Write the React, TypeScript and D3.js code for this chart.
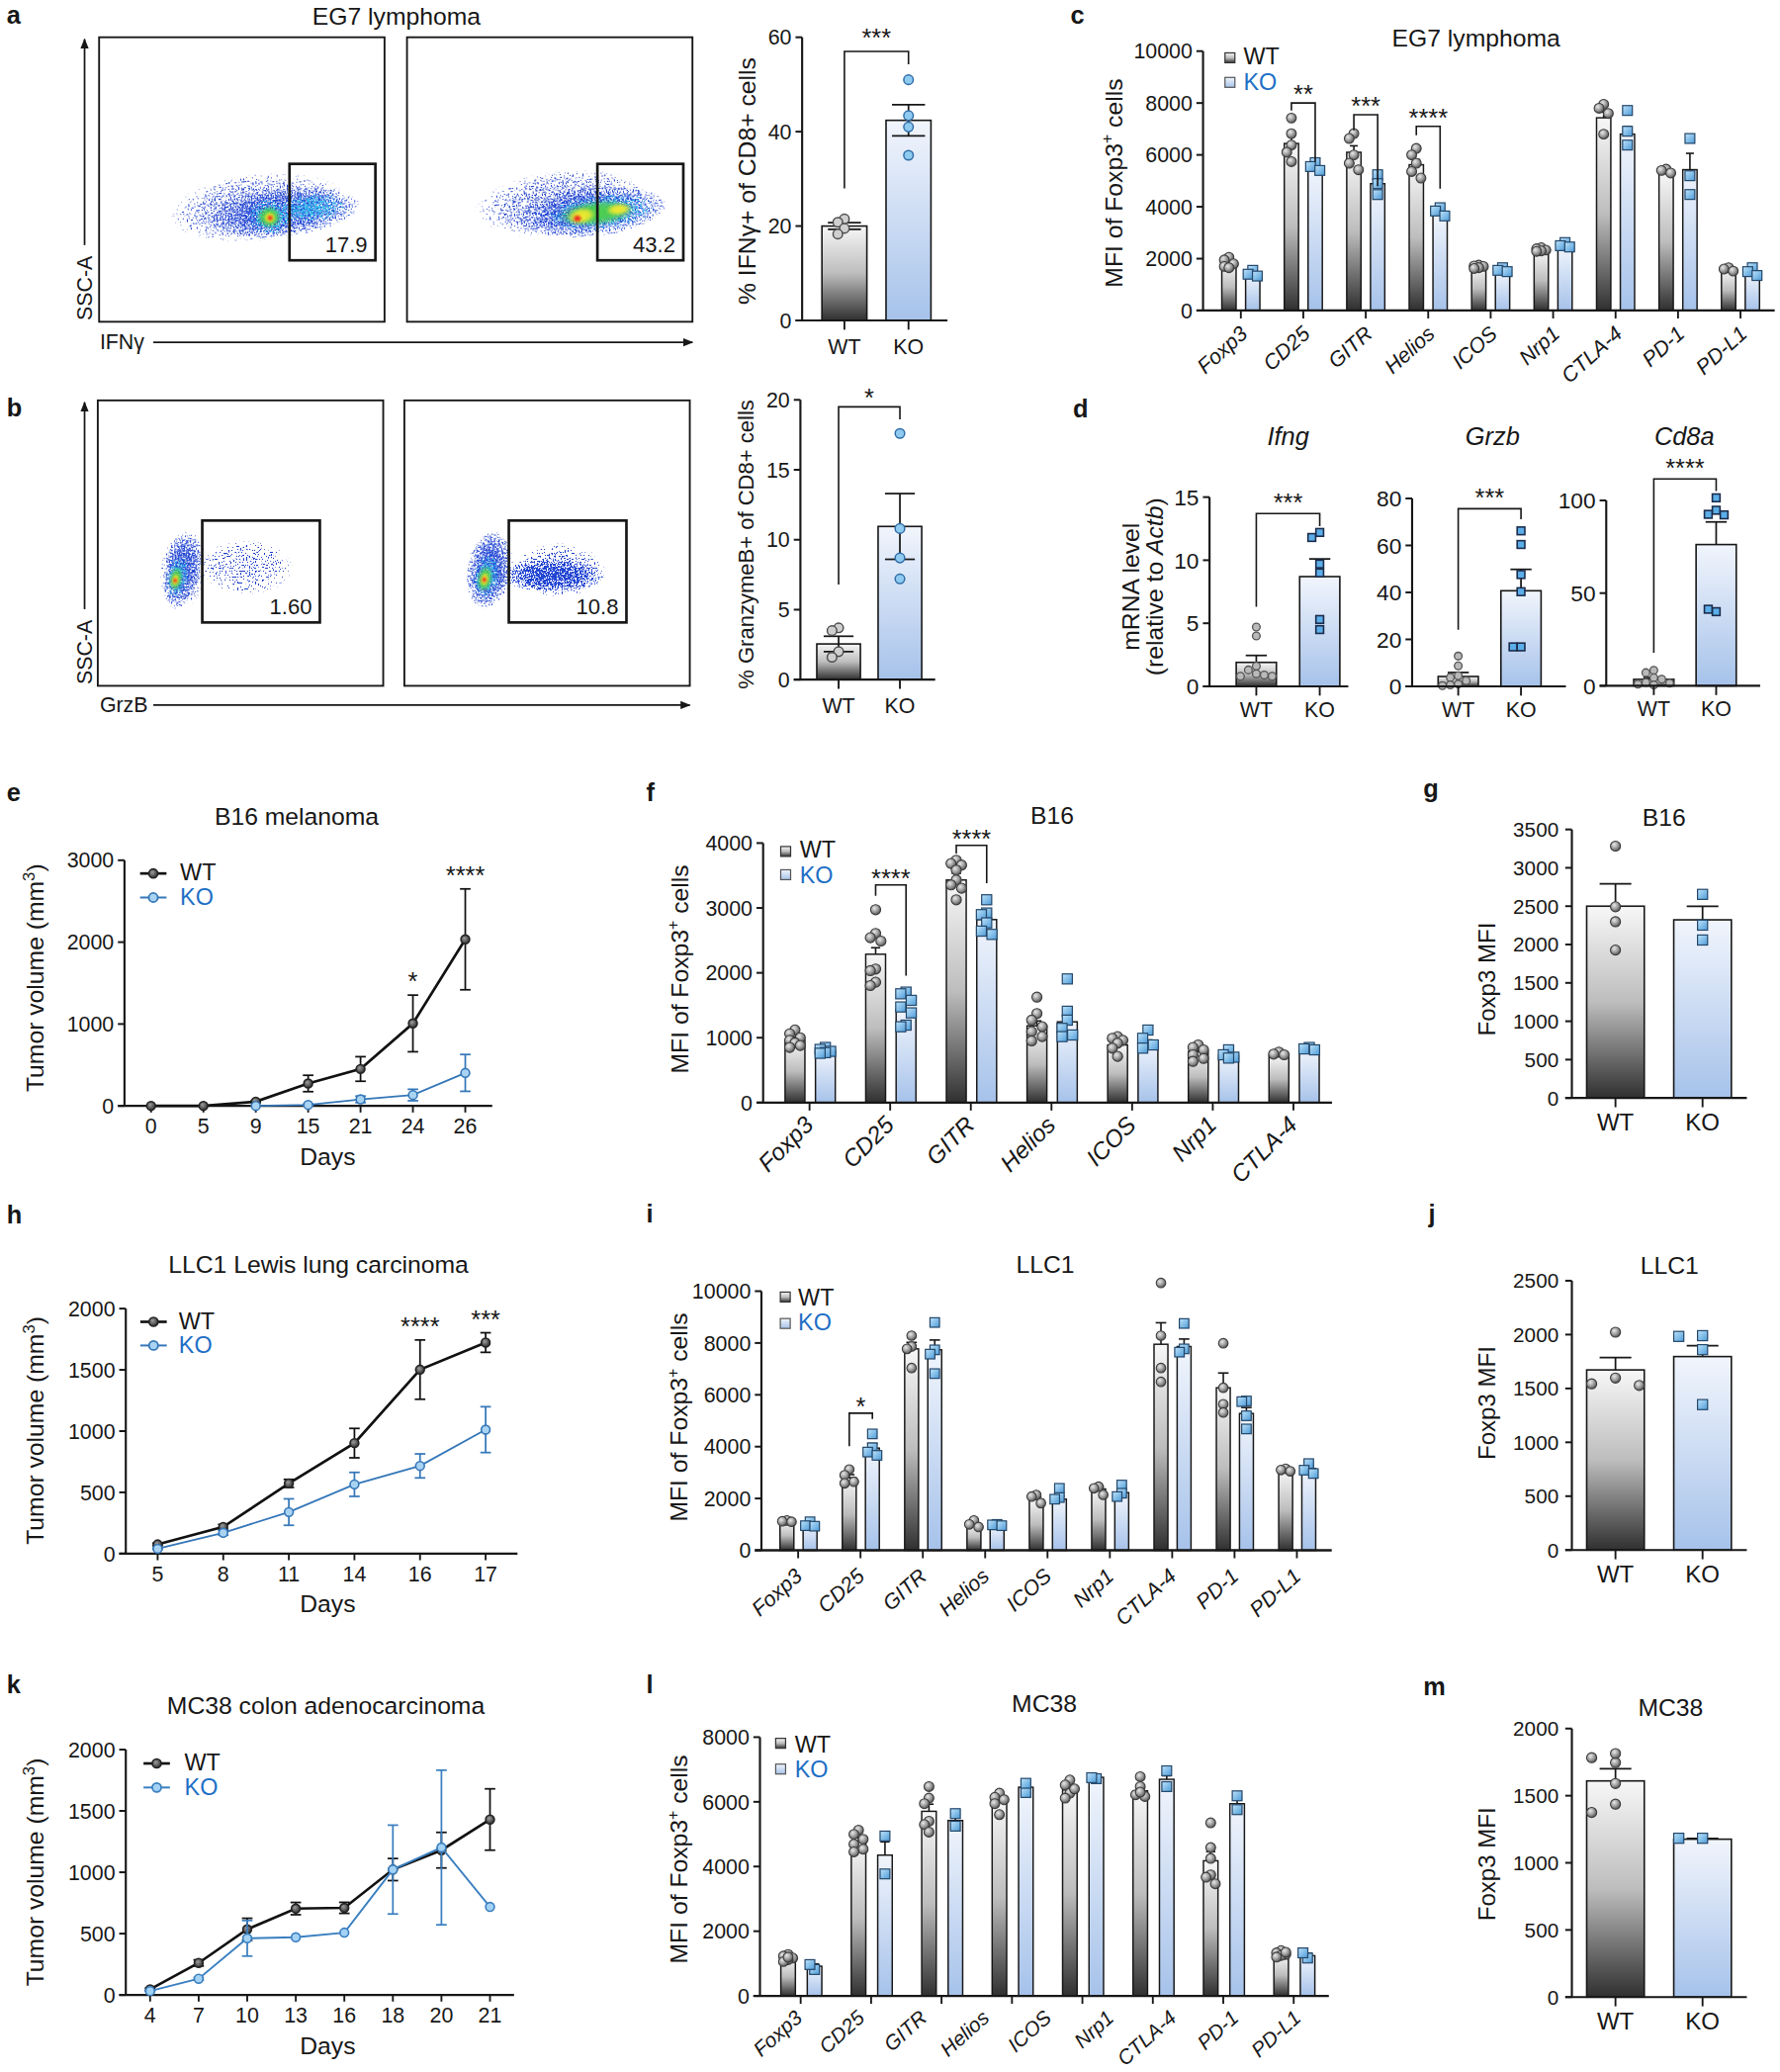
import React from 'react';
import * as d3 from 'd3';

const FF = "'Liberation Sans', Arial, Helvetica, sans-serif";
const INK = '#171717';
const KO_TEXT = '#1e6fc5';

// ================= DATA =================
const GROUPS = ['WT', 'KO'];
const MARKERS = ['Foxp3', 'CD25', 'GITR', 'Helios', 'ICOS', 'Nrp1', 'CTLA-4', 'PD-1', 'PD-L1'];
const MARKERS_B16 = ['Foxp3', 'CD25', 'GITR', 'Helios', 'ICOS', 'Nrp1', 'CTLA-4'];
const MC38_GROUPS = ['Foxp3', 'CD25', 'GITR', 'Helios', 'ICOS', 'CTLA-4', 'PD-1', 'PD-L1'];

// flow cytometry density contours (normalised channel units 0-1000)
const FLOW_A_WT = [
  { x: 556, y: 402, rx: 380, ry: 145, rot: -6, k: 'halo' },
  { x: 645, y: 385, rx: 270, ry: 85, rot: -6, k: 'dense' },
  { x: 745, y: 400, rx: 120, ry: 52, rot: -6, k: 'cyan' },
  { x: 600, y: 370, rx: 82, ry: 62, rot: 0, k: 'cyan' },
  { x: 596, y: 368, rx: 44, ry: 40, rot: 0, k: 'green' },
  { x: 598, y: 366, rx: 22, ry: 22, rot: 0, k: 'yellow' },
  { x: 599, y: 365, rx: 11, ry: 11, rot: 0, k: 'red' },
];
const FLOW_A_KO = [
  { x: 540, y: 416, rx: 370, ry: 140, rot: -6, k: 'halo' },
  { x: 650, y: 385, rx: 258, ry: 86, rot: -6, k: 'dense' },
  { x: 680, y: 386, rx: 192, ry: 64, rot: -6, k: 'cyan' },
  { x: 665, y: 382, rx: 138, ry: 45, rot: -6, k: 'green' },
  { x: 611, y: 372, rx: 52, ry: 30, rot: -10, k: 'yellow' },
  { x: 742, y: 395, rx: 46, ry: 22, rot: -6, k: 'yellow' },
  { x: 597, y: 363, rx: 16, ry: 14, rot: 0, k: 'red' },
];
const FLOW_B_WT = [
  { x: 520, y: 415, rx: 255, ry: 150, rot: 0, k: 'sparse' },
  { x: 300, y: 405, rx: 100, ry: 175, rot: 8, k: 'halo' },
  { x: 294, y: 405, rx: 66, ry: 130, rot: 10, k: 'dense' },
  { x: 279, y: 384, rx: 40, ry: 74, rot: 10, k: 'cyan' },
  { x: 274, y: 375, rx: 24, ry: 44, rot: 10, k: 'green' },
  { x: 272, y: 371, rx: 14, ry: 24, rot: 10, k: 'yellow' },
  { x: 271, y: 369, rx: 8, ry: 10, rot: 0, k: 'red' },
];
const FLOW_B_KO = [
  { x: 540, y: 405, rx: 260, ry: 150, rot: 0, k: 'sparse' },
  { x: 300, y: 405, rx: 100, ry: 170, rot: 8, k: 'halo' },
  { x: 520, y: 392, rx: 215, ry: 80, rot: 0, k: 'halo' },
  { x: 520, y: 384, rx: 178, ry: 56, rot: 0, k: 'dense' },
  { x: 296, y: 405, rx: 76, ry: 135, rot: 10, k: 'dense' },
  { x: 287, y: 384, rx: 46, ry: 80, rot: 10, k: 'cyan' },
  { x: 282, y: 375, rx: 28, ry: 48, rot: 10, k: 'green' },
  { x: 281, y: 373, rx: 16, ry: 26, rot: 10, k: 'yellow' },
  { x: 280, y: 372, rx: 9, ry: 11, rot: 0, k: 'red' },
];
const GATE_A = { x0: 667, x1: 968, y0: 216, y1: 555 };
const GATE_B = { x0: 366, x1: 778, y0: 222, y1: 579 };
const FLOW_LABELS = ['17.9', '43.2', '1.60', '10.8'];

// a
const A_TICKS = [0, 20, 40, 60];
const A_MEAN = [20, 42.4];
const A_SEM = [0.7, 3.3];
const A_PTS = [[21.5, 20.8, 19.5, 18.3], [51, 43.4, 41, 35]];
const A_BRACKET = { top: 57, l: 28, r: 54.3, label: '***' };
// b
const B_TICKS = [0, 5, 10, 15, 20];
const B_MEAN = [2.55, 10.95];
const B_SEM = [0.55, 2.35];
const B_PTS = [[3.7, 3.5, 2.0, 1.6], [17.6, 10.8, 8.7, 7.2]];
const B_BRACKET = { top: 19.5, l: 6.8, r: 18.6, label: '*' };

// c (EG7)
const C_TICKS = [0, 2000, 4000, 6000, 8000, 10000];
const C_WT_MEAN = [1800, 6440, 6100, 5620, 1680, 2310, 7430, 5320, 1550];
const C_WT_SEM = [80, 270, 250, 200, 30, 40, 220, 50, 40];
const C_KO_MEAN = [1420, 5550, 4890, 3740, 1520, 2500, 6800, 5430, 1470];
const C_KO_SEM = [70, 90, 220, 100, 50, 60, 300, 630, 90];
const C_WT_PTS = [
  [2050, 1950, 1800, 1700, 1650],
  [7420, 6820, 6380, 6100, 5740],
  [6823, 6633, 6000, 5680, 5425],
  [6250, 6000, 5680, 5360, 5108],
  [1750, 1720, 1700, 1650, 1620],
  [2420, 2380, 2330, 2300, 2280],
  [7950, 7800, 7600, 6800],
  [5450, 5400, 5300],
  [1650, 1600, 1520],
];
const C_KO_PTS = [
  [1550, 1400, 1330],
  [5700, 5550, 5400],
  [5235, 4890, 4470],
  [3964, 3837, 3646],
  [1650, 1550, 1500],
  [2620, 2500, 2450],
  [7713, 6912, 6379],
  [6633, 5197, 4473],
  [1650, 1500, 1350],
];
const C_BRACKETS = [
  { g: 'CD25', top: 8000, l: 7710, r: 5740, label: '**' },
  { g: 'GITR', top: 7550, l: 6950, r: 4790, label: '***' },
  { g: 'Helios', top: 7100, l: 6760, r: 4700, label: '****' },
];

// d (qPCR)
const D_GENES = ['Ifng', 'Grzb', 'Cd8a'];
const D_TICKS = [[0, 5, 10, 15], [0, 20, 40, 60, 80], [0, 50, 100]];
const D_MEAN = [[1.9, 8.7], [4.2, 40.7], [3.5, 76.2]];
const D_SEM = [[0.55, 1.4], [1.7, 9.1], [1.0, 12.2]];
const D_PTS = [
  [[4.7, 4.0, 1.6, 1.3, 1.0, 0.9, 0.8, 0.8], [12.2, 11.8, 9.7, 9.0, 5.3, 4.5]],
  [[12.9, 8.7, 4.5, 3.8, 2.4, 1.0, 0.6, 0.3], [66.2, 60.4, 47.6, 40.3, 16.8, 16.8]],
  [[8.4, 7.1, 4.4, 3.6, 1.8, 0.9, 0.5, 1.4], [101.4, 94.7, 92.5, 92.2, 40, 41.3]],
];
const D_BRACKETS = [
  { top: 13.7, l: 6.3, r: 12.7, label: '***' },
  { top: 75.6, l: 24.1, r: 71.2, label: '***' },
  { top: 111.6, l: 17.8, r: 105, label: '****' },
];

// e (B16 growth)
const E_DAYS = ['0', '5', '9', '15', '21', '24', '26'];
const E_TICKS = [0, 1000, 2000, 3000];
const E_WT = [0, 0, 52, 274, 451, 1007, 2034];
const E_WT_SEM = [0, 0, 10, 100, 150, 346, 616];
const E_KO = [null, null, 0, 12, 80, 133, 403];
const E_KO_SEM = [0, 0, 0, 10, 40, 70, 225];
const E_SIG = [{ i: 5, label: '*' }, { i: 6, label: '****' }];

// f (B16 MFI)
const F_TICKS = [0, 1000, 2000, 3000, 4000];
const F_WT_MEAN = [966, 2287, 3431, 1184, 889, 788, 727];
const F_WT_SEM = [40, 100, 100, 75, 50, 40, 20];
const F_KO_MEAN = [798, 1438, 2821, 1245, 915, 727, 813];
const F_KO_SEM = [20, 80, 60, 127, 50, 30, 15];
const F_WT_PTS = [
  [1120, 1060, 1000, 960, 920, 880, 850],
  [2973, 2607, 2541, 2490, 2058, 2033, 1855, 1804],
  [3736, 3685, 3660, 3583, 3431, 3355, 3303, 3126],
  [1626, 1372, 1271, 1169, 1093, 1017, 951],
  [1017, 991, 960, 915, 839, 712],
  [889, 850, 813, 737, 680, 635],
  [778, 747, 737],
];
const F_KO_PTS = [
  [850, 820, 790, 770, 760],
  [1703, 1677, 1576, 1474, 1383, 1194, 1169],
  [3126, 2922, 2897, 2770, 2643, 2592],
  [1906, 1408, 1271, 1144, 1042, 1017],
  [1118, 991, 889, 839],
  [813, 737, 700, 686],
  [849, 828, 813],
];
const F_BRACKETS = [
  { g: 'CD25', top: 3354, l: 3187, r: 1957, label: '****' },
  { g: 'GITR', top: 3964, l: 3837, r: 3380, label: '****' },
];

// g, j, m (Foxp3 MFI)
const G_TICKS = [0, 500, 1000, 1500, 2000, 2500, 3000, 3500];
const G_MEAN = [2500, 2322];
const G_SEM = [290, 175];
const G_PTS = [[3283, 2492, 2297, 1928], [2654, 2253, 2059]];
const J_TICKS = [0, 500, 1000, 1500, 2000, 2500];
const J_MEAN = [1672, 1796];
const J_SEM = [115, 100];
const J_PTS = [[2022, 1597, 1543, 1528], [1990, 1983, 1860, 1350]];
const M_TICKS = [0, 500, 1000, 1500, 2000];
const M_MEAN = [1610, 1176];
const M_SEM = [90, 5];
const M_PTS = [[1746, 1783, 1814, 1591, 1437, 1375], [1183, 1183]];

// h (LLC1 growth)
const H_DAYS = ['5', '8', '11', '14', '16', '17'];
const H_TICKS = [0, 500, 1000, 1500, 2000];
const H_WT = [75, 218, 573, 902, 1502, 1723];
const H_WT_SEM = [10, 20, 33, 120, 242, 80];
const H_KO = [40, 170, 339, 565, 716, 1012];
const H_KO_SEM = [5, 20, 108, 98, 98, 187];
const H_SIG = [{ i: 4, label: '****' }, { i: 5, label: '***' }];

// i (LLC1 MFI)
const I_TICKS = [0, 2000, 4000, 6000, 8000, 10000];
const I_WT_MEAN = [1120, 2800, 7773, 992, 1972, 2366, 7951, 6272, 3092];
const I_WT_SEM = [30, 120, 250, 60, 80, 80, 830, 570, 30];
const I_KO_MEAN = [992, 3944, 7735, 954, 1972, 2226, 7863, 5280, 3155];
const I_KO_SEM = [50, 180, 380, 20, 120, 130, 290, 230, 110];
const I_WT_PTS = [
  [1150, 1120, 1100], [3117, 2900, 2646, 2583], [8282, 7863, 7773, 7036], [1150, 1000, 900],
  [2137, 2074, 1819], [2455, 2392, 2137], [10318, 8282, 7036, 6501], [7990, 6272, 5636, 5318], [3150, 3100, 3050],
];
const I_KO_PTS = [
  [1100, 950, 930], [4491, 3957, 3791, 3664], [8791, 7735, 7570, 6819], [1000, 980, 950],
  [2392, 2036, 1972], [2519, 2201, 2074], [8753, 7773, 7646], [5763, 5738, 5191, 4682], [3346, 3092, 2964],
];
const I_BRACKETS = [{ g: 'CD25', top: 5293, l: 4020, r: 5064, label: '*' }];

// k (MC38 growth)
const K_DAYS = ['4', '7', '10', '13', '16', '18', '20', '21'];
const K_TICKS = [0, 500, 1000, 1500, 2000];
const K_WT = [46, 261, 535, 704, 710, 1022, 1180, 1430];
const K_WT_SEM = [10, 25, 90, 50, 45, 90, 145, 250];
const K_KO = [32, 132, 462, 470, 508, 1022, 1202, 718];
const K_KO_SEM = [5, 10, 145, 0, 0, 362, 630, 0];

// l (MC38 MFI)
const L_TICKS = [0, 2000, 4000, 6000, 8000];
const L_WT_MEAN = [1172, 4790, 5707, 6064, 6369, 6339, 4178, 1274];
const L_WT_SEM = [40, 100, 220, 100, 110, 110, 280, 30];
const L_KO_MEAN = [917, 4352, 5422, 6451, 6757, 6696, 5941, 1243];
const L_KO_SEM = [70, 410, 200, 150, 20, 110, 280, 80];
const L_WT_PTS = [
  [1280, 1230, 1170, 1120, 1060, 1200], [5126, 4994, 4841, 4688, 4535, 4453],
  [6471, 6115, 5942, 5401, 5299, 5065], [6268, 6140, 6064, 5942, 5605], [6675, 6522, 6268, 6115, 6400],
  [6777, 6471, 6217, 6166, 6300], [5350, 4586, 4250, 3740, 3669, 3465], [1400, 1330, 1280, 1250, 1200, 1350],
];
const L_KO_PTS = [
  [815, 968], [4943, 3771], [5636, 5248], [6288, 6573], [6716, 6746], [6960, 6471], [6186, 5758], [1170, 1330],
];

// ================= HELPERS =================
function dodge(vals, y, step, minD, maxK) {
  const placed = [];
  const cands = [0];
  for (let k = 1; k <= maxK; k++) cands.push(-k, k);
  return vals.map((v) => {
    const py = y(v);
    let best = 0;
    let bestD = -1;
    for (const c of cands) {
      const px = c * step;
      let md = Infinity;
      for (const p of placed) md = Math.min(md, Math.hypot(p.x - px, p.y - py));
      if (md >= minD) { best = px; bestD = md; break; }
      if (md > bestD) { bestD = md; best = px; }
    }
    placed.push({ x: best, y: py });
    return best;
  });
}

const ST_AB_WT = { fill: '#cfcfcf', stroke: '#4d4d4d', sw: 1.1 };
const ST_AB_KO = { fill: '#8fcaf0', stroke: '#2f6ca6', sw: 1.1 };
const ST_D_WT = { fill: '#b9b9b9', stroke: '#555', sw: 1 };
const ST_D_KO = { fill: '#5caee9', stroke: '#1b2c4c', sw: 1.2 };
const ST_G_WT = { fill: 'url(#gDot)', stroke: '#3a3a3a', sw: 0.8 };
const ST_G_KO = { fill: 'url(#gSq)', stroke: '#24476a', sw: 0.9 };

function Dots({ vals, cx, y, kind, st, r, step, maxK }) {
  const offs = dodge(vals, y, step, r * 1.7, maxK);
  return (
    <g>
      {vals.map((v, i) =>
        kind === 'sq' ? (
          <rect key={i} x={cx + offs[i] - r} y={y(v) - r} width={2 * r} height={2 * r}
            fill={st.fill} stroke={st.stroke} strokeWidth={st.sw} />
        ) : (
          <circle key={i} cx={cx + offs[i]} cy={y(v)} r={r} fill={st.fill} stroke={st.stroke} strokeWidth={st.sw} />
        )
      )}
    </g>
  );
}

function ErrBar({ x, m, s, y, cap, both = false, sw = 1.3 }) {
  if (!s) return null;
  const top = y(m + s);
  const bot = both ? y(m - s) : y(m);
  return (
    <g stroke={INK} strokeWidth={sw}>
      <line x1={x} x2={x} y1={top} y2={bot} />
      <line x1={x - cap / 2} x2={x + cap / 2} y1={top} y2={top} />
      {both && <line x1={x - cap / 2} x2={x + cap / 2} y1={bot} y2={bot} />}
    </g>
  );
}

function YAxis({ x, y, ticks, fs = 16, tl = 5, gap = 3 }) {
  const d = y.domain();
  return (
    <g>
      <line x1={x} x2={x} y1={y(d[0])} y2={y(d[1])} stroke={INK} strokeWidth={1.6} />
      {ticks.map((t) => (
        <g key={t}>
          <line x1={x - tl} x2={x} y1={y(t)} y2={y(t)} stroke={INK} strokeWidth={1.5} />
          <text x={x - tl - gap} y={y(t)} dy="0.36em" textAnchor="end" fontSize={fs}>{t}</text>
        </g>
      ))}
    </g>
  );
}

function Bracket({ xl, xr, y, b, gap = 0, fs = 19 }) {
  return (
    <g>
      <path d={`M${xl},${y(b.l)}V${y(b.top)}H${xr}V${y(b.r)}`} fill="none" stroke={INK} strokeWidth={1.2} />
      <text x={(xl + xr) / 2} y={y(b.top) - gap} textAnchor="middle" fontSize={fs}>{b.label}</text>
    </g>
  );
}

function VTitle({ x, y, fs = 18.5, children }) {
  return (
    <text transform={`translate(${x},${y}) rotate(-90)`} textAnchor="middle" fontSize={fs}>{children}</text>
  );
}

function Letter({ x, y, c }) {
  return <text x={x} y={y} fontSize={19} fontWeight="bold">{c}</text>;
}

function TwoBar({ y, x, axisX, xEnd, ticks, bw, means, sems, pts, both, cap, wtSt, koSt, wtKind, koKind, r, step,
  maxK = 1, tickFs = 16, labFs = 16, labDy, bracket = null, bgap = 0, tl = 5, tgap = 3 }) {
  const y0 = y(0);
  return (
    <g>
      {GROUPS.map((g, i) => (
        <rect key={g} x={x(g) - bw / 2} y={y(means[i])} width={bw} height={y0 - y(means[i])}
          fill={i ? 'url(#gKO)' : 'url(#gWT)'} stroke={INK} strokeWidth={1.2} />
      ))}
      {GROUPS.map((g, i) => (
        <ErrBar key={g} x={x(g)} m={means[i]} s={sems[i]} y={y} cap={cap} both={both} />
      ))}
      {GROUPS.map((g, i) => (
        <Dots key={g} vals={pts[i]} cx={x(g)} y={y} kind={i ? koKind : wtKind} st={i ? koSt : wtSt}
          r={r} step={step} maxK={maxK} />
      ))}
      <YAxis x={axisX} y={y} ticks={ticks} fs={tickFs} tl={tl} gap={tgap} />
      <line x1={axisX - tl} x2={xEnd} y1={y0} y2={y0} stroke={INK} strokeWidth={1.6} />
      {GROUPS.map((g) => (
        <g key={g}>
          <line x1={x(g)} x2={x(g)} y1={y0} y2={y0 + 7} stroke={INK} strokeWidth={1.4} />
          <text x={x(g)} y={y0 + labDy} textAnchor="middle" fontSize={labFs}>{g}</text>
        </g>
      ))}
      {bracket && <Bracket xl={x('WT')} xr={x('KO')} y={y} b={bracket} gap={bgap} />}
    </g>
  );
}

function Grouped({ cats, gx, y, axisX, xEnd, ticks, off, bw, wtM, wtS, koM, koS, wtP, koP, r, step,
  brackets = [], bgap = 0, labels = null, lx = null, ang = 45, lfs = 16, ldx = 5, ldy = 19, cap = 7 }) {
  const y0 = y(0);
  const L = labels || cats;
  const LX = lx || gx;
  return (
    <g>
      {cats.map((c, i) => {
        const xw = gx(c) + off[0];
        const xk = gx(c) + off[1];
        return (
          <g key={c}>
            <rect x={xw - bw / 2} y={y(wtM[i])} width={bw} height={y0 - y(wtM[i])} fill="url(#gWT)" stroke={INK} strokeWidth={1.1} />
            <rect x={xk - bw / 2} y={y(koM[i])} width={bw} height={y0 - y(koM[i])} fill="url(#gKO)" stroke={INK} strokeWidth={1.1} />
            <ErrBar x={xw} m={wtM[i]} s={wtS[i]} y={y} cap={cap} sw={1.2} />
            <ErrBar x={xk} m={koM[i]} s={koS[i]} y={y} cap={cap} sw={1.2} />
            <Dots vals={wtP[i]} cx={xw} y={y} kind="c" st={ST_G_WT} r={r} step={step} maxK={1} />
            <Dots vals={koP[i]} cx={xk} y={y} kind="sq" st={ST_G_KO} r={r} step={step} maxK={1} />
          </g>
        );
      })}
      <YAxis x={axisX} y={y} ticks={ticks} fs={16} tl={5} gap={3} />
      <line x1={axisX - 5} x2={xEnd} y1={y0} y2={y0} stroke={INK} strokeWidth={1.7} />
      {cats.map((c) => (
        <line key={c} x1={gx(c)} x2={gx(c)} y1={y0} y2={y0 + 6} stroke={INK} strokeWidth={1.4} />
      ))}
      {L.map((c) => (
        <text key={c} transform={`translate(${LX(c) + ldx},${y0 + ldy}) rotate(${-ang})`} textAnchor="end"
          fontSize={lfs} fontStyle="italic">{c}</text>
      ))}
      {brackets.map((b) => (
        <Bracket key={b.g} xl={gx(b.g) + off[0]} xr={gx(b.g) + off[1]} y={y} b={b} gap={bgap} />
      ))}
    </g>
  );
}

function SqLegend({ x, y1, y2, tx, b1, b2, s = 7.5, fs = 17.5 }) {
  return (
    <g>
      <rect x={x} y={y1} width={s} height={s} fill="url(#gWT)" stroke="#333" strokeWidth={0.9} />
      <text x={tx} y={b1} fontSize={fs}>WT</text>
      <rect x={x} y={y2} width={s} height={s} fill="url(#gKO)" stroke="#555" strokeWidth={0.9} />
      <text x={tx} y={b2} fontSize={fs} fill={KO_TEXT}>KO</text>
    </g>
  );
}

function LineChart({ days, x, y, axisX, xEnd, ticks, wt, wtS, ko, koS, sig = [], leg, koColor = '#3577b8', koFill = '#a9d3f2' }) {
  const y0 = y(0);
  const mk = (vals) =>
    d3.line().defined((d) => d != null).x((d, i) => x(days[i])).y((d) => y(d))(vals);
  const series = [
    { vals: wt, sem: wtS, color: '#111', w: 2, fill: 'url(#gMk)', mstroke: '#222' },
    { vals: ko, sem: koS, color: koColor, w: 1.4, fill: koFill, mstroke: koColor },
  ];
  return (
    <g>
      <YAxis x={axisX} y={y} ticks={ticks} fs={16} tl={5} gap={3} />
      <line x1={axisX - 5} x2={xEnd} y1={y0} y2={y0} stroke={INK} strokeWidth={1.6} />
      {days.map((d) => (
        <g key={d}>
          <line x1={x(d)} x2={x(d)} y1={y0} y2={y0 + 5} stroke={INK} strokeWidth={1.4} />
          <text x={x(d)} y={y0 + 21} textAnchor="middle" fontSize={16}>{d}</text>
        </g>
      ))}
      <text x={248} y={y0 + 44.5} textAnchor="middle" fontSize={18.5}>Days</text>
      {series.map((s, si) => (
        <g key={si}>
          <path d={mk(s.vals)} fill="none" stroke={s.color} strokeWidth={s.w} />
          {s.vals.map((v, i) =>
            v != null && s.sem[i] ? (
              <g key={i} stroke={s.color} strokeWidth={1.3}>
                <line x1={x(days[i])} x2={x(days[i])} y1={y(v - s.sem[i])} y2={y(v + s.sem[i])} />
                <line x1={x(days[i]) - 4} x2={x(days[i]) + 4} y1={y(v + s.sem[i])} y2={y(v + s.sem[i])} />
                <line x1={x(days[i]) - 4} x2={x(days[i]) + 4} y1={y(v - s.sem[i])} y2={y(v - s.sem[i])} />
              </g>
            ) : null
          )}
          {s.vals.map((v, i) =>
            v != null ? <circle key={i} cx={x(days[i])} cy={y(v)} r={3.3} fill={s.fill} stroke={s.mstroke} strokeWidth={1.2} /> : null
          )}
        </g>
      ))}
      {sig.map((s) => (
        <text key={s.i} x={x(days[s.i])} y={y(wt[s.i] + wtS[s.i]) - 3.5} textAnchor="middle" fontSize={19}>{s.label}</text>
      ))}
      <g>
        <line x1={leg.x0} x2={leg.x0 + 20} y1={leg.y1} y2={leg.y1} stroke="#111" strokeWidth={2} />
        <circle cx={leg.x0 + 10} cy={leg.y1} r={3.4} fill="url(#gMk)" stroke="#222" strokeWidth={1.2} />
        <text x={leg.tx} y={leg.y1 + 5.5} fontSize={17.5}>WT</text>
        <line x1={leg.x0} x2={leg.x0 + 20} y1={leg.y2} y2={leg.y2} stroke={koColor} strokeWidth={1.5} />
        <circle cx={leg.x0 + 10} cy={leg.y2} r={3.4} fill={koFill} stroke={koColor} strokeWidth={1.3} />
        <text x={leg.tx} y={leg.y2 + 5.5} fontSize={17.5} fill={KO_TEXT}>KO</text>
      </g>
    </g>
  );
}

const BLOB_STYLE = {
  sparse: { fill: 'url(#fade)', filter: 'url(#spSparse)' },
  halo: { fill: 'url(#fade)', filter: 'url(#spHalo)' },
  dense: { fill: 'url(#fade)', filter: 'url(#spDense)' },
  cyan: { fill: 'url(#fade)', filter: 'url(#spCyan)' },
  green: { fill: 'url(#rgGreen)', filter: 'url(#soft)' },
  yellow: { fill: 'url(#rgYellow)', filter: 'url(#soft)' },
  red: { fill: 'url(#rgRed)', filter: 'url(#soft)' },
};

function Flow({ box, blobs, gate, label, id }) {
  const sx = d3.scaleLinear().domain([0, 1000]).range([box.x, box.x + box.w]);
  const sy = d3.scaleLinear().domain([0, 1000]).range([box.y + box.h, box.y]);
  const kx = box.w / 1000;
  const ky = box.h / 1000;
  return (
    <g>
      <clipPath id={id}>
        <rect x={box.x} y={box.y} width={box.w} height={box.h} />
      </clipPath>
      <g clipPath={`url(#${id})`}>
        {blobs.map((b, i) => {
          const cx = sx(b.x);
          const cy = sy(b.y);
          const st = BLOB_STYLE[b.k];
          return (
            <ellipse key={i} cx={cx} cy={cy} rx={b.rx * kx} ry={b.ry * ky}
              transform={`rotate(${b.rot} ${cx} ${cy})`} fill={st.fill} filter={st.filter} />
          );
        })}
      </g>
      <rect x={box.x} y={box.y} width={box.w} height={box.h} fill="none" stroke={INK} strokeWidth={1.4} />
      <rect x={sx(gate.x0)} y={sy(gate.y1)} width={sx(gate.x1) - sx(gate.x0)} height={sy(gate.y0) - sy(gate.y1)}
        fill="none" stroke={INK} strokeWidth={2} />
      <text x={sx(gate.x1) - 6} y={sy(gate.y0) - 6} textAnchor="end" fontSize={16.5}>{label}</text>
    </g>
  );
}

function Speckle({ id, color, slope, intercept, freq = 0.9, seed = 3 }) {
  return (
    <filter id={id} x="-5%" y="-5%" width="110%" height="110%" colorInterpolationFilters="sRGB">
      <feTurbulence type="fractalNoise" baseFrequency={freq} numOctaves={1} seed={seed} result="n" />
      <feColorMatrix in="n" type="matrix" values="0 0 0 0 0  0 0 0 0 0  0 0 0 0 0  2.6 0 0 0 -0.8" result="na" />
      <feComposite in="SourceAlpha" in2="na" operator="arithmetic" k1={1} k2={0} k3={0} k4={0} result="p" />
      <feComponentTransfer in="p" result="m">
        <feFuncA type="linear" slope={slope} intercept={intercept} />
      </feComponentTransfer>
      <feFlood floodColor={color} result="c" />
      <feComposite in="c" in2="m" operator="in" />
    </filter>
  );
}

function Defs() {
  const rg = (id, c) => (
    <radialGradient id={id}>
      <stop offset="0" stopColor={c} stopOpacity={1} />
      <stop offset="0.55" stopColor={c} stopOpacity={0.85} />
      <stop offset="1" stopColor={c} stopOpacity={0} />
    </radialGradient>
  );
  return (
    <defs>
      <linearGradient id="gWT" x1="0" y1="0" x2="0" y2="1">
        <stop offset="0" stopColor="#f7f7f7" />
        <stop offset="0.5" stopColor="#bdbdbd" />
        <stop offset="1" stopColor="#303030" />
      </linearGradient>
      <linearGradient id="gKO" x1="0" y1="0" x2="0" y2="1">
        <stop offset="0" stopColor="#f1f5fc" />
        <stop offset="1" stopColor="#a6c2ea" />
      </linearGradient>
      <radialGradient id="gDot" cx="0.38" cy="0.35" r="0.7">
        <stop offset="0" stopColor="#e8e8e8" />
        <stop offset="0.55" stopColor="#9a9a9a" />
        <stop offset="1" stopColor="#4a4a4a" />
      </radialGradient>
      <linearGradient id="gSq" x1="0" y1="0" x2="1" y2="1">
        <stop offset="0" stopColor="#bfe4fb" />
        <stop offset="1" stopColor="#4d9bd8" />
      </linearGradient>
      <radialGradient id="gMk" cx="0.4" cy="0.38" r="0.65">
        <stop offset="0" stopColor="#9c9c9c" />
        <stop offset="1" stopColor="#2c2c2c" />
      </radialGradient>
      <radialGradient id="fade">
        <stop offset="0" stopColor="#fff" stopOpacity={1} />
        <stop offset="0.45" stopColor="#fff" stopOpacity={0.88} />
        <stop offset="1" stopColor="#fff" stopOpacity={0.42} />
      </radialGradient>
      {rg('rgGreen', '#4ccf4a')}
      {rg('rgYellow', '#f4ea2e')}
      {rg('rgRed', '#f01d1d')}
      <filter id="soft" x="-30%" y="-30%" width="160%" height="160%">
        <feGaussianBlur stdDeviation="0.8" />
      </filter>
      <Speckle id="spSparse" color="#1b3cc8" slope={12} intercept={-8.6} seed={5} />
      <Speckle id="spHalo" color="#1b3cc8" slope={12} intercept={-6.8} seed={3} />
      <Speckle id="spDense" color="#2448d6" slope={12} intercept={-4.2} seed={8} />
      <Speckle id="spCyan" color="#33c4ee" slope={12} intercept={-5.0} seed={11} />
      <marker id="arr" viewBox="0 0 10 10" refX="9" refY="5" markerWidth="6" markerHeight="6" orient="auto">
        <path d="M0,1 L10,5 L0,9 z" fill={INK} />
      </marker>
    </defs>
  );
}

function FlowRow({ boxes, blobs, gate, labels, xName, arrowY, ids }) {
  const b0 = boxes[0];
  return (
    <g>
      {boxes.map((b, i) => (
        <Flow key={i} box={b} blobs={blobs[i]} gate={gate} label={labels[i]} id={ids[i]} />
      ))}
      <line x1={64} x2={64} y1={b0.y + b0.h - 58} y2={b0.y + 1.5} stroke={INK} strokeWidth={1.3} markerEnd="url(#arr)" />
      <text transform={`translate(69.5,${b0.y + b0.h - 1}) rotate(-90)`} fontSize={16}>SSC-A</text>
      <line x1={116} x2={boxes[1].x + boxes[1].w} y1={arrowY} y2={arrowY} stroke={INK} strokeWidth={1.3} markerEnd="url(#arr)" />
      <text x={75.5} y={arrowY + 5.5} fontSize={16}>{xName}</text>
    </g>
  );
}

// ================= APP =================
export default function App() {
  const aY = d3.scaleLinear().domain([0, 60]).range([242.5, 28.2]);
  const aX = d3.scalePoint().domain(GROUPS).range([639, 687.5]);
  const bY = d3.scaleLinear().domain([0, 20]).range([514.3, 302.6]);
  const bX = d3.scalePoint().domain(GROUPS).range([634.6, 681]);
  const cY = d3.scaleLinear().domain([0, 10000]).range([235, 38.7]);
  const cX = d3.scalePoint().domain(MARKERS).range([939, 1317.1]);
  const dSpec = [
    { ax: 915.3, end: 1020.3, c: [950.7, 998.7], top: 376.2, bot: 519.4, tx: 974.8 },
    { ax: 1068.6, end: 1185, c: [1103.5, 1151], top: 377.2, bot: 519.4, tx: 1129.5 },
    { ax: 1215.5, end: 1332, c: [1251.5, 1298.7], top: 378.7, bot: 519.0, tx: 1274.6 },
  ];
  const eY = d3.scaleLinear().domain([0, 3000]).range([836.9, 651]);
  const eX = d3.scalePoint().domain(E_DAYS).range([114.3, 352.1]);
  const hY = d3.scaleLinear().domain([0, 2000]).range([1175.7, 990.3]);
  const hX = d3.scalePoint().domain(H_DAYS).range([119.3, 367.5]);
  const kY = d3.scaleLinear().domain([0, 2000]).range([1509.7, 1324]);
  const kX = d3.scalePoint().domain(K_DAYS).range([113.6, 370.8]);
  const fY = d3.scaleLinear().domain([0, 4000]).range([834.4, 638]);
  const fX = d3.scalePoint().domain(MARKERS_B16).range([612.6, 978.8]);
  const iY = d3.scaleLinear().domain([0, 10000]).range([1173.2, 977.1]);
  const iX = d3.scalePoint().domain(MARKERS).range([604, 981.4]);
  const lY = d3.scaleLinear().domain([0, 8000]).range([1510.4, 1314.6]);
  const lGX = d3.scalePoint().domain(MC38_GROUPS).range([605.9, 979]);
  const lLX = d3.scalePoint().domain(MARKERS).range([604, 981.4]);
  const gmX = d3.scalePoint().domain(GROUPS).range([1222.5, 1288.4]);
  const gY = d3.scaleLinear().domain([0, 3500]).range([830.9, 627.7]);
  const jY = d3.scaleLinear().domain([0, 2500]).range([1173, 969.2]);
  const mY = d3.scaleLinear().domain([0, 2000]).range([1511.3, 1308.1]);

  const twoG = { axisX: 1189.5, xEnd: 1321.9, bw: 43.6, cap: 24, both: false, wtSt: ST_G_WT, koSt: ST_G_KO,
    wtKind: 'c', koKind: 'sq', r: 3.8, step: 18, tickFs: 15.5, labFs: 18, labDy: 24.5, tgap: 5 };

  const mfiTitle = (
    <>
      MFI of Foxp3<tspan dy={-7} fontSize={12}>+</tspan><tspan dy={7}> cells</tspan>
    </>
  );
  const tumorTitle = (
    <>
      Tumor volume (mm<tspan dy={-7} fontSize={12.5}>3</tspan><tspan dy={7}>)</tspan>
    </>
  );

  return (
    <svg width={1800} height={2095} viewBox="0 0 1347 1568" preserveAspectRatio="none"
      style={{ position: 'absolute', left: 0, top: 0, background: '#fff' }} fontFamily={FF} fill={INK}>
      <Defs />
      <rect x={0} y={0} width={1347} height={1568} fill="#fff" />

      {/* ===== a ===== */}
      <Letter x={5} y={18} c="a" />
      <text x={300} y={19} textAnchor="middle" fontSize={18.5}>EG7 lymphoma</text>
      <FlowRow
        boxes={[{ x: 75, y: 28.2, w: 216, h: 215.3 }, { x: 308, y: 28.2, w: 216, h: 215.3 }]}
        blobs={[FLOW_A_WT, FLOW_A_KO]} gate={GATE_A} labels={[FLOW_LABELS[0], FLOW_LABELS[1]]}
        xName="IFNγ" arrowY={259} ids={['clA1', 'clA2']} />
      <TwoBar y={aY} x={aX} axisX={607} xEnd={717} ticks={A_TICKS} bw={34} means={A_MEAN} sems={A_SEM} pts={A_PTS}
        both cap={25} wtSt={ST_AB_WT} koSt={ST_AB_KO} wtKind="c" koKind="c" r={3.6} step={5} labDy={25.7}
        bracket={A_BRACKET} bgap={3.5} />
      <VTitle x={572} y={137}>% IFNγ+ of CD8+ cells</VTitle>

      {/* ===== b ===== */}
      <Letter x={5} y={315} c="b" />
      <FlowRow
        boxes={[{ x: 74, y: 303, w: 216, h: 216 }, { x: 306, y: 303, w: 216, h: 216 }]}
        blobs={[FLOW_B_WT, FLOW_B_KO]} gate={GATE_B} labels={[FLOW_LABELS[2], FLOW_LABELS[3]]}
        xName="GrzB" arrowY={533.6} ids={['clB1', 'clB2']} />
      <TwoBar y={bY} x={bX} axisX={605.7} xEnd={707.7} ticks={B_TICKS} bw={33} means={B_MEAN} sems={B_SEM} pts={B_PTS}
        both cap={22.6} wtSt={ST_AB_WT} koSt={ST_AB_KO} wtKind="c" koKind="c" r={3.6} step={5} labDy={25.7}
        bracket={B_BRACKET} bgap={0} />
      <VTitle x={570.5} y={412} fs={16.5}>% GranzymeB+ of CD8+ cells</VTitle>

      {/* ===== c ===== */}
      <Letter x={810} y={18} c="c" />
      <text x={1117} y={35} textAnchor="middle" fontSize={18.5}>EG7 lymphoma</text>
      <Grouped cats={MARKERS} gx={cX} y={cY} axisX={910.4} xEnd={1343} ticks={C_TICKS} off={[-9, 9]} bw={10.8}
        wtM={C_WT_MEAN} wtS={C_WT_SEM} koM={C_KO_MEAN} koS={C_KO_SEM} wtP={C_WT_PTS} koP={C_KO_PTS}
        r={3.7} step={3.5} brackets={C_BRACKETS} bgap={0} ang={42} lfs={16} ldx={6} ldy={19} cap={6} />
      <SqLegend x={927} y1={40} y2={58.6} tx={941} b1={48.6} b2={67.9} />
      <VTitle x={849} y={138.5}>{mfiTitle}</VTitle>

      {/* ===== d ===== */}
      <Letter x={812} y={316} c="d" />
      {D_GENES.map((g, gi) => {
        const s = dSpec[gi];
        const y = d3.scaleLinear().domain([0, D_TICKS[gi][D_TICKS[gi].length - 1]]).range([s.bot, s.top]);
        const x = d3.scalePoint().domain(GROUPS).range(s.c);
        return (
          <g key={g}>
            <text x={s.tx} y={337} textAnchor="middle" fontSize={19} fontStyle="italic">{g}</text>
            <TwoBar y={y} x={x} axisX={s.ax} xEnd={s.end} ticks={D_TICKS[gi]} bw={30.4} means={D_MEAN[gi]}
              sems={D_SEM[gi]} pts={D_PTS[gi]} both={false} cap={16} wtSt={ST_D_WT} koSt={ST_D_KO} wtKind="c"
              koKind="sq" r={2.9} step={6} maxK={2} tickFs={17} labFs={16} labDy={23} bracket={D_BRACKETS[gi]} bgap={1.5} />
          </g>
        );
      })}
      <text transform="translate(862,444) rotate(-90)" textAnchor="middle" fontSize={18.5}>mRNA level</text>
      <text transform="translate(880,444) rotate(-90)" textAnchor="middle" fontSize={18.5}>
        (relative to <tspan fontStyle="italic">Actb</tspan>)
      </text>

      {/* ===== e ===== */}
      <Letter x={5} y={606} c="e" />
      <text x={224.5} y={624} textAnchor="middle" fontSize={18.5}>B16 melanoma</text>
      <LineChart days={E_DAYS} x={eX} y={eY} axisX={94.2} xEnd={372.5} ticks={E_TICKS} wt={E_WT} wtS={E_WT_SEM}
        ko={E_KO} koS={E_KO_SEM} sig={E_SIG} leg={{ x0: 106, tx: 136.3, y1: 661, y2: 679.2 }} />
      <VTitle x={33} y={740}>{tumorTitle}</VTitle>

      {/* ===== f ===== */}
      <Letter x={489} y={606} c="f" />
      <text x={796.3} y={623.6} textAnchor="middle" fontSize={18.5}>B16</text>
      <Grouped cats={MARKERS_B16} gx={fX} y={fY} axisX={577.5} xEnd={1008} ticks={F_TICKS} off={[-11, 12]} bw={15}
        wtM={F_WT_MEAN} wtS={F_WT_SEM} koM={F_KO_MEAN} koS={F_KO_SEM} wtP={F_WT_PTS} koP={F_KO_PTS}
        r={3.8} step={4} brackets={F_BRACKETS} bgap={-1.5} ang={45} lfs={18} ldx={4} ldy={18} cap={7} />
      <SqLegend x={590.8} y1={640.6} y2={658.2} tx={605.2} b1={649} b2={668} />
      <VTitle x={520.5} y={733.4}>{mfiTitle}</VTitle>

      {/* ===== g ===== */}
      <Letter x={1077} y={603} c="g" />
      <text x={1259.2} y={624.6} textAnchor="middle" fontSize={18.5}>B16</text>
      <TwoBar y={gY} x={gmX} ticks={G_TICKS} means={G_MEAN} sems={G_SEM} pts={G_PTS} {...twoG} />
      <VTitle x={1131.5} y={741} fs={18}>Foxp3 MFI</VTitle>

      {/* ===== h ===== */}
      <Letter x={5} y={926} c="h" />
      <text x={241} y={963} textAnchor="middle" fontSize={18.5}>LLC1 Lewis lung carcinoma</text>
      <LineChart days={H_DAYS} x={hX} y={hY} axisX={95.2} xEnd={391.6} ticks={H_TICKS} wt={H_WT} wtS={H_WT_SEM}
        ko={H_KO} koS={H_KO_SEM} sig={H_SIG} leg={{ x0: 106.2, tx: 135.3, y1: 1000.3, y2: 1018.2 }} />
      <VTitle x={33} y={1082.6}>{tumorTitle}</VTitle>

      {/* ===== i ===== */}
      <Letter x={489} y={925} c="i" />
      <text x={791} y={963.4} textAnchor="middle" fontSize={18.5}>LLC1</text>
      <Grouped cats={MARKERS} gx={iX} y={iY} axisX={576.2} xEnd={1007.8} ticks={I_TICKS} off={[-8.5, 9]} bw={10.5}
        wtM={I_WT_MEAN} wtS={I_WT_SEM} koM={I_KO_MEAN} koS={I_KO_SEM} wtP={I_WT_PTS} koP={I_KO_PTS}
        r={3.6} step={3.5} brackets={I_BRACKETS} bgap={-2} ang={42} lfs={16} ldx={4} ldy={21} cap={8} />
      <SqLegend x={590.5} y1={977.8} y2={997.8} tx={604} b1={987.8} b2={1006.5} />
      <VTitle x={520} y={1072.5}>{mfiTitle}</VTitle>

      {/* ===== j ===== */}
      <Letter x={1081} y={925} c="j" />
      <text x={1263.4} y={964.2} textAnchor="middle" fontSize={18.5}>LLC1</text>
      <TwoBar y={jY} x={gmX} ticks={J_TICKS} means={J_MEAN} sems={J_SEM} pts={J_PTS} {...twoG} />
      <VTitle x={1131.5} y={1061.7} fs={18}>Foxp3 MFI</VTitle>

      {/* ===== k ===== */}
      <Letter x={5} y={1281} c="k" />
      <text x={246.6} y={1297} textAnchor="middle" fontSize={18.5}>MC38 colon adenocarcinoma</text>
      <LineChart days={K_DAYS} x={kX} y={kY} axisX={95.2} xEnd={389} ticks={K_TICKS} wt={K_WT} wtS={K_WT_SEM}
        ko={K_KO} koS={K_KO_SEM} leg={{ x0: 108.6, tx: 139.6, y1: 1334.5, y2: 1352.7 }}
        koColor="#3a7fc0" koFill="#a3d2f5" />
      <VTitle x={33} y={1416.8}>{tumorTitle}</VTitle>

      {/* ===== l ===== */}
      <Letter x={489} y={1281} c="l" />
      <text x={790.3} y={1295.9} textAnchor="middle" fontSize={18.5}>MC38</text>
      <Grouped cats={MC38_GROUPS} gx={lGX} y={lY} axisX={575.1} xEnd={1005.6} ticks={L_TICKS} off={[-9.5, 10.5]} bw={11}
        wtM={L_WT_MEAN} wtS={L_WT_SEM} koM={L_KO_MEAN} koS={L_KO_SEM} wtP={L_WT_PTS} koP={L_KO_PTS}
        r={3.7} step={3.5} labels={MARKERS} lx={lLX} ang={42} lfs={15.5} ldx={4} ldy={18} cap={7} />
      <SqLegend x={587} y1={1315.5} y2={1335} tx={601.5} b1={1326.6} b2={1345} />
      <VTitle x={520} y={1407}>{mfiTitle}</VTitle>

      {/* ===== m ===== */}
      <Letter x={1077} y={1283} c="m" />
      <text x={1264.2} y={1298.7} textAnchor="middle" fontSize={18.5}>MC38</text>
      <TwoBar y={mY} x={gmX} ticks={M_TICKS} means={M_MEAN} sems={M_SEM} pts={M_PTS} {...twoG} />
      <VTitle x={1131.5} y={1410.7} fs={18}>Foxp3 MFI</VTitle>
    </svg>
  );
}
